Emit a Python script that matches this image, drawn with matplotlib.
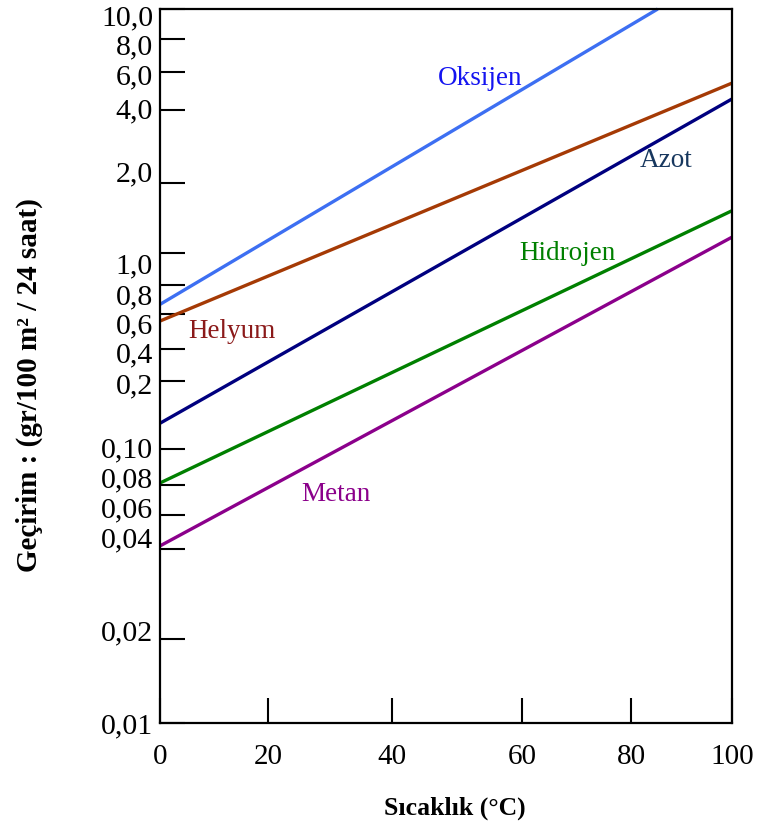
import numpy as np
from matplotlib import pyplot as plt
from matplotlib.transforms import ScaledTranslation

# gas lines: temperature (°C) at the ends and permeability values there
gases = ['Oksijen', 'Helyum', 'Azot', 'Hidrojen', 'Metan']
t_start = [0, 0, 0, 0, 0]
t_end = [85.3, 100, 100, 100, 100]
v_start = [0.66, 0.553, 0.130, 0.081, 0.0415]
v_end = [10.0, 5.33, 4.50, 1.52, 1.17]

line_colors = ['#3d6ff2', '#a53a05', '#00007f', '#008000', '#8b008b']
label_colors = ['#1414f0', '#8b1a1a', '#17375e', '#008000', '#8b008b']
# label anchor (°C, value)
label_t = [53.5, 13.3, 86.9, 68.4, 31.0]
label_v = [5.6, 0.49, 2.47, 1.0, 0.073]

# axis ticks as printed on the original (non-uniform spacing)
x_ticks = [0, 20, 40, 60, 80, 100]
x_pos = [0, 108, 232, 362, 471, 572]
y_ticks = [0.01, 0.02, 0.04, 0.06, 0.08, 0.10, 0.2, 0.4, 0.6, 0.8, 1.0, 2.0, 4.0, 6.0, 8.0, 10.0]
y_labels = ['0,01', '0,02', '0,04', '0,06', '0,08', '0,10', '0,2', '0,4', '0,6', '0,8',
            '1,0', '2,0', '4,0', '6,0', '8,0', '10,0']
y_pos = [0, 84, 174, 208, 238, 274, 342, 374, 409, 438, 470, 540, 613, 651, 684, 714]
# the printed labels sit a little off their tick marks (px, + = down)
y_label_shift = [0, -9, -12, -8, -8, -2, 2, 3, 9, 9, 10, -12, -2, 2, 5, 6]

x_ticks_a = np.array(x_ticks, float)
x_pos_a = np.array(x_pos, float)
y_logs = np.log10(y_ticks)
y_pos_a = np.array(y_pos, float)


def x_fwd(t):
    return np.interp(t, x_ticks_a, x_pos_a)


def x_inv(p):
    return np.interp(p, x_pos_a, x_ticks_a)


def y_fwd(v):
    v = np.clip(np.asarray(v, float), 1e-6, None)
    return np.interp(np.log10(v), y_logs, y_pos_a)


def y_inv(p):
    return 10 ** np.interp(p, y_pos_a, y_logs)


plt.rcParams['font.family'] = ['Liberation Serif', 'DejaVu Serif']

fig = plt.figure(figsize=(7.66, 8.30), dpi=100)
ax = fig.add_axes([160 / 766, 1 - 723 / 830, 572 / 766, 714 / 830])
ax.set_xscale('function', functions=(x_fwd, x_inv))
ax.set_yscale('function', functions=(y_fwd, y_inv))

for i, name in enumerate(gases):
    ax.plot([t_start[i], t_end[i]], [v_start[i], v_end[i]], color=line_colors[i],
            lw=2.4, solid_capstyle='butt', clip_on=False)
    ax.text(label_t[i], label_v[i], name, color=label_colors[i], fontsize=19.5,
            ha='center', va='center')

ax.set_xlim(0, 100)
ax.set_ylim(0.01, 10.0)

ax.set_xticks(x_ticks)
ax.set_xticklabels([str(t) for t in x_ticks])
ax.set_yticks(y_ticks)
ax.set_yticklabels(y_labels)
ax.minorticks_off()
ax.tick_params(axis='both', direction='in', length=18, width=1.5, labelsize=21)
ax.tick_params(axis='x', pad=15)
ax.tick_params(axis='y', pad=5, labelsize=21.5)

for lab, dy in zip(ax.get_yticklabels(), y_label_shift):
    lab.set_transform(lab.get_transform() + ScaledTranslation(0, -dy / 100, fig.dpi_scale_trans))

for s in ax.spines.values():
    s.set_linewidth(1.6)

ax.set_xlabel('Sıcaklık (°C)', fontsize=18.5, fontweight='bold')
ax.xaxis.set_label_coords(0.516, -0.103)
ax.set_ylabel('Geçirim : (gr/100 m² / 24 saat)', fontsize=21, fontweight='bold')
ax.yaxis.set_label_coords(-0.205, 0.473)

fig.savefig('out.png', dpi=100)
